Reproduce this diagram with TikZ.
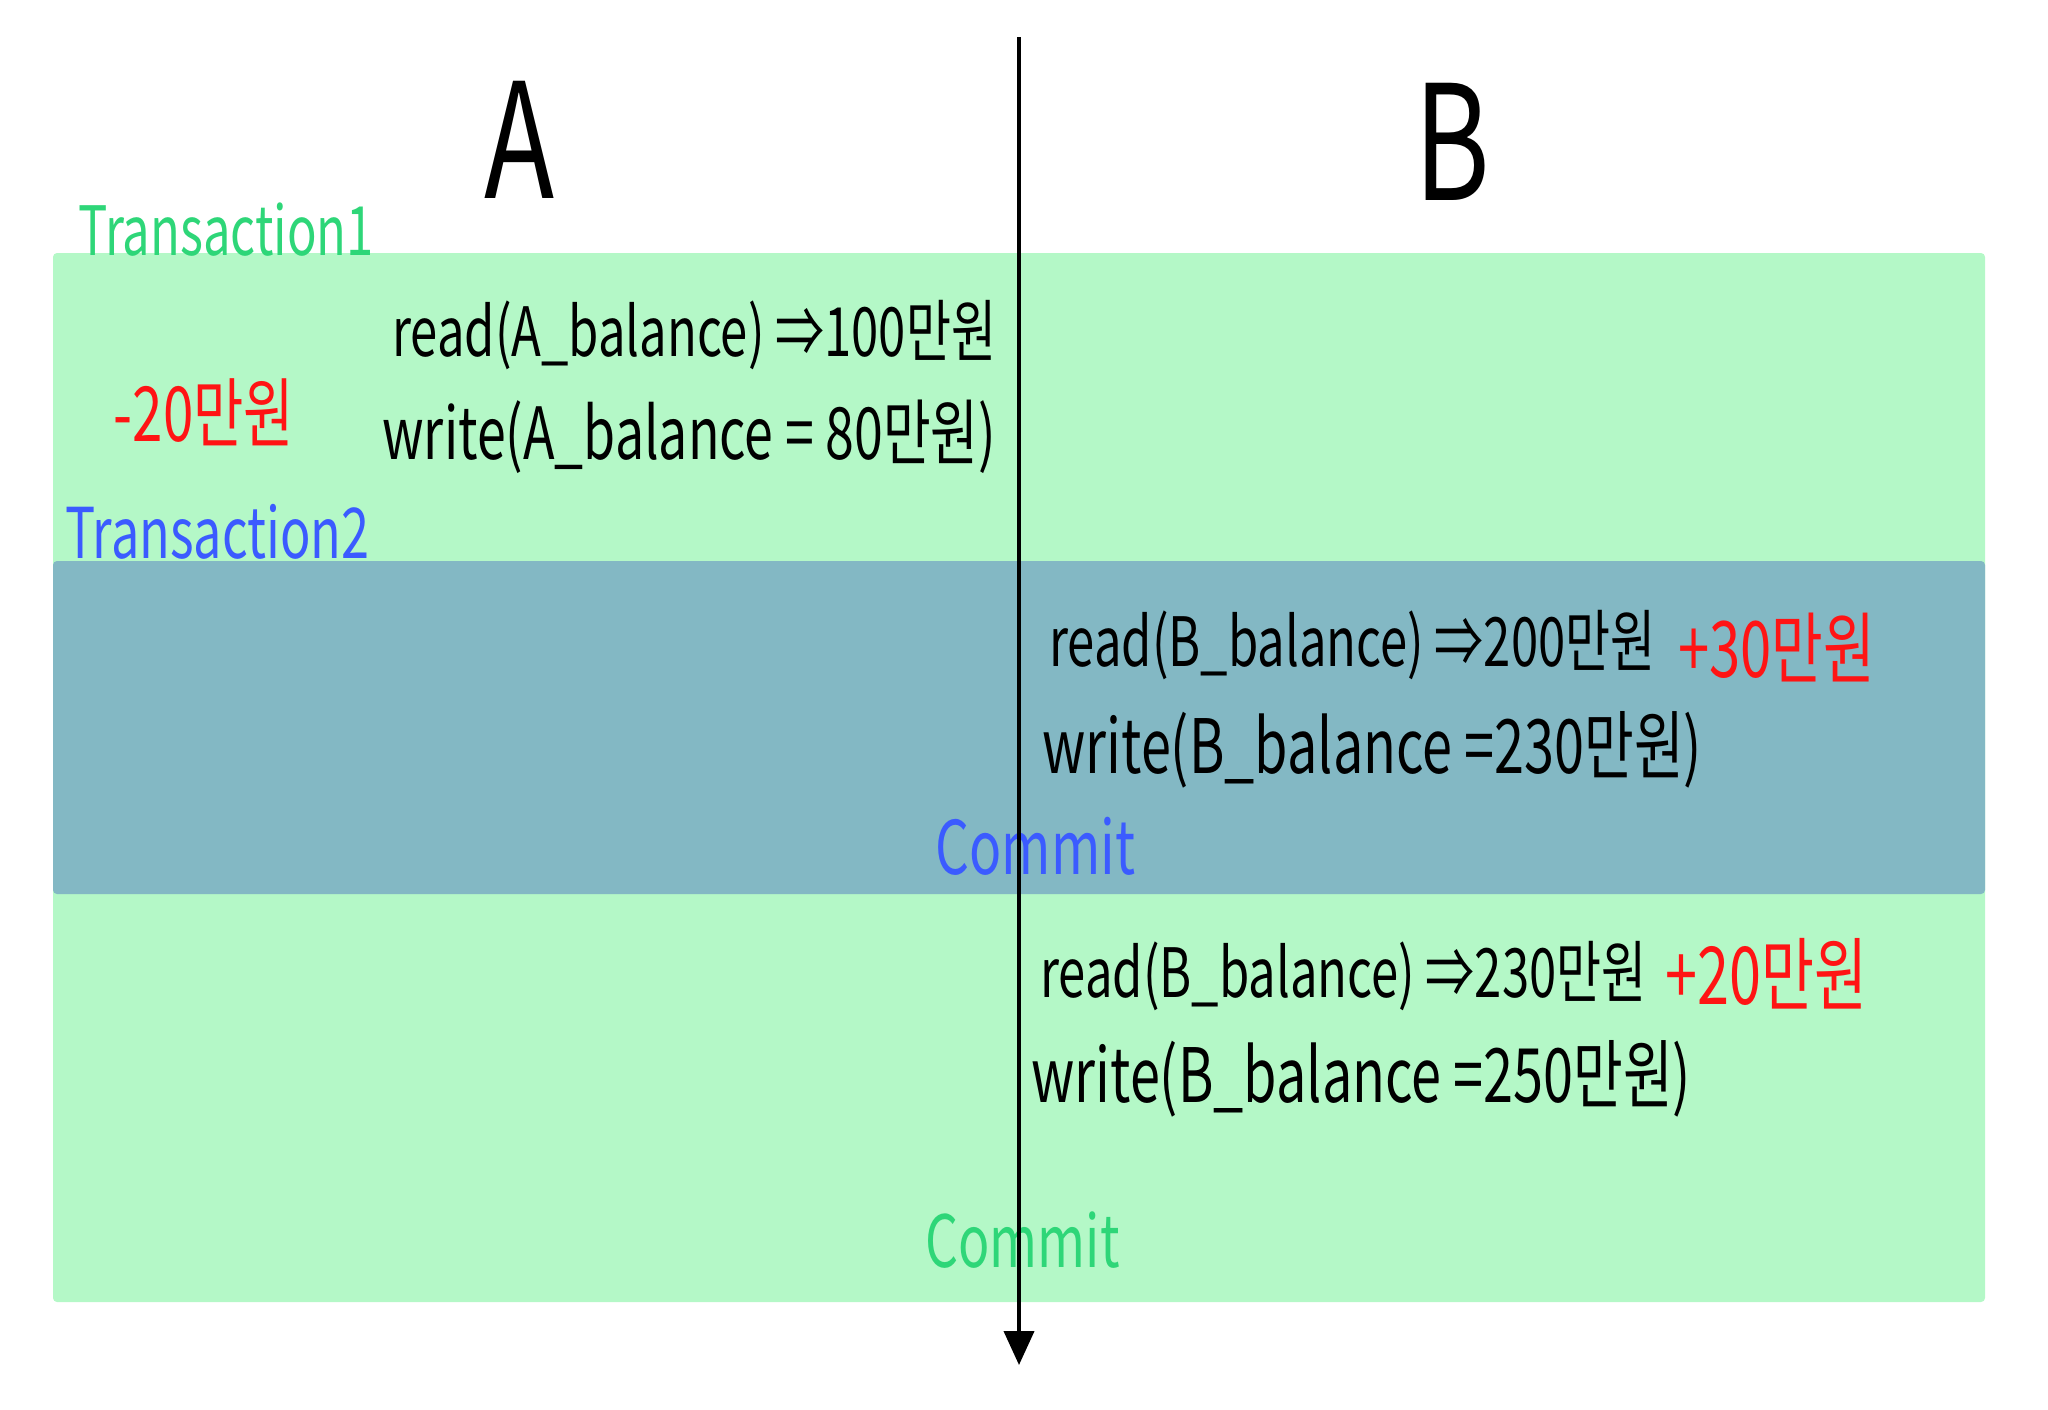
\documentclass[tikz,border=0pt]{standalone}
\usepackage{fontspec}
\newfontfamily\hand[FakeStretch=0.72]{Noto Sans CJK KR}
\usepackage{tikz}
\usetikzlibrary{calc}
\usetikzlibrary{math}
\usetikzlibrary{arrows.meta}
\definecolor{fondvert}{HTML}{B4F8C7}
\definecolor{fondbleu}{HTML}{83B8C4}
\definecolor{encrevert}{HTML}{2ED678}
\definecolor{encrebleu}{HTML}{3B5BFF}
\definecolor{encrerouge}{HTML}{FF1414}
\tikzset{ecrit/.style={font=\hand\fontsize{#1}{#1}\selectfont, inner sep=0pt, anchor=west},
  ecrit/.default=34pt}

\begin{document}
\begin{tikzpicture}[x=0.5pt,y=-0.5pt]
            \tikzmath{\largeur = 2048; \hauteur = 1409; \gauche = 53; \droite = 1985;}
                \useasboundingbox (0,0) rectangle (\largeur,\hauteur);
                \coordinate (H) at (1019,37);
                \coordinate (S) at (1019,1365);
                % les deux transactions
                \fill[fondvert, rounded corners=2pt] (\gauche,253) rectangle (\droite,1302);
                \fill[fondbleu, rounded corners=2pt] (\gauche,561) rectangle (\droite,894);
                \node[ecrit=80pt, anchor=center] (A) at (520,140) {A};
                \node[ecrit=80pt, anchor=center] (B) at (1452,142) {B};
                \node[ecrit=34pt, text=encrevert] (T1) at (78,230) {Transaction1};
                \node[ecrit=35pt, text=encrebleu] (T2) at (65,532) {Transaction2};
                % compte A
                \node[ecrit] (lireA) at (392,335) {read(A\_balance) ⇒100만원};
                \node[ecrit=36pt] (ecrireA) at (382,437) {write(A\_balance = 80만원)};
                \node[ecrit=38pt, text=encrerouge, anchor=center] (moinsA) at (204,412) {-20만원};
                % compte B, transaction 2
                \node[ecrit] (lireB) at (1049,645) {read(B\_balance) ⇒200만원};
                \node[ecrit=39pt, text=encrerouge] (plusB) at (1678,647) {+30만원};
                \node[ecrit=37.5pt] (ecrireB) at (1042,750) {write(B\_balance =230만원)};
                \node[ecrit=37pt, text=encrebleu] (finT2) at (935,846) {Commit};
                % compte B, transaction 1
                \node[ecrit] (lireBB) at (1040,976) {read(B\_balance) ⇒230만원};
                \node[ecrit=40pt, text=encrerouge] (plusBB) at (1665,974) {+20만원};
                \node[ecrit=37.5pt] (ecrireBB) at (1031,1079) {write(B\_balance =250만원)};
                \node[ecrit=36pt, text=encrevert] (finT1) at (925,1240) {Commit};
                \draw[line width=2pt, -{Triangle[length=17pt,width=15pt]}] (H) -- (S);
            \end{tikzpicture}
\end{document}
